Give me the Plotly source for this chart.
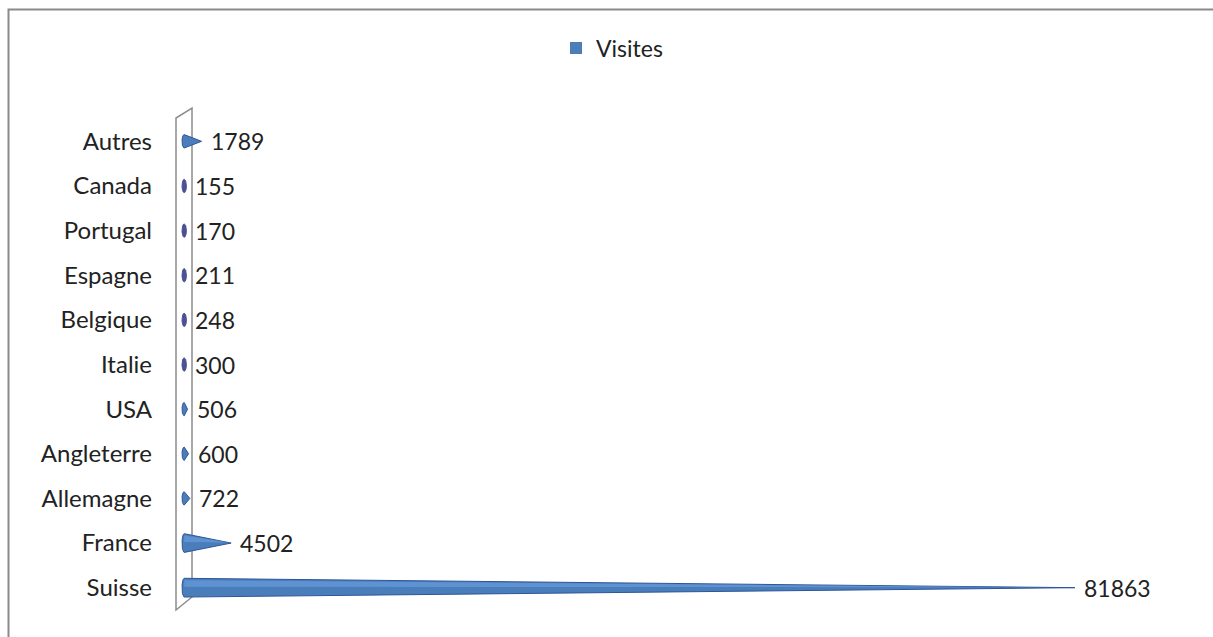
import numpy as np
import plotly.graph_objects as go

# ---- data ----
categories = ["Suisse", "France", "Allemagne", "Angleterre", "USA", "Italie",
              "Belgique", "Espagne", "Portugal", "Canada", "Autres"]
visites = [81863, 4502, 722, 600, 506, 300, 248, 211, 170, 155, 1789]
series_name = "Visites"

# ---- layout geometry (page pixels; body margin removed) ----
W, H = 1213, 637
ML, MR, MT, MB = 178, 18, 119, 27
PX_PER_UNIT = 893 / 81863.0          # horizontal scale of the value axis
plot_w = W - ML - MR
plot_h = H - MT - MB
x_min = -4 / PX_PER_UNIT
x_max = x_min + plot_w / PX_PER_UNIT

BLUE = "#4a7ebb"
BLUE_DARK = "#2f5597"
NAVY = "#4b5192"
TXT = "#222222"
FONT = "Lato"
FS = 23

fig = go.Figure()

ry = 0.21                      # half height of cone base (category units)
ry_small = 0.15                # visible base of very short cones
rx = 2.2 / PX_PER_UNIT         # half width of base ellipse (value units)

for i, (cat, v) in enumerate(zip(categories, visites)):
    cx = rx
    if v > 2 * rx:
        r = ry if v > 20 * rx else ry_small
        t = np.linspace(np.pi / 2, 3 * np.pi / 2, 30)
        xs = list(cx + rx * np.cos(t)) + [v, cx]
        ys = list(i + r * np.sin(t)) + [i, i + r]
        fig.add_trace(go.Scatter(x=xs, y=ys, mode="lines", fill="toself",
                                 fillcolor=BLUE, line=dict(color=BLUE_DARK, width=1),
                                 hoverinfo="skip", showlegend=False))
        if v > 20 * rx:
            # lighter upper half for a rounded look
            fig.add_trace(go.Scatter(x=[cx, v * 0.97, cx], y=[i + r * 0.8, i + 0.01, i + r * 0.1],
                                     mode="lines", fill="toself", fillcolor="rgba(110,160,225,0.6)",
                                     line=dict(width=0), hoverinfo="skip", showlegend=False))
    else:
        t = np.linspace(0, 2 * np.pi, 40)
        xs = list(cx + rx * np.cos(t))
        ys = list(i + ry_small * np.sin(t))
        fig.add_trace(go.Scatter(x=xs, y=ys, mode="lines", fill="toself",
                                 fillcolor=NAVY, line=dict(color=NAVY, width=1),
                                 hoverinfo="skip", showlegend=False))

# value labels
for i, v in enumerate(visites):
    fig.add_annotation(x=max(v, 2 * rx), y=i, text=str(v), showarrow=False,
                       xanchor="left", yanchor="middle", xshift=7,
                       font=dict(family=FONT, size=FS, color=TXT))

# legend entry
fig.add_trace(go.Scatter(x=[None], y=[None], mode="markers", name=series_name,
                         marker=dict(symbol="square", size=12, color=BLUE)))


def px_x(p):
    return (p - ML) / plot_w


def px_y(p):
    return (H - MB - p) / plot_h


# 3D axis wall outline (page pixel coords)
wall = [(176, 118), (176, 610), (192, 597), (192, 108)]
path = "M " + " L ".join(f"{px_x(a)},{px_y(b)}" for a, b in wall) + " Z"
fig.add_shape(type="path", xref="paper", yref="paper", path=path,
              line=dict(color="#8c8c8c", width=1.5), fillcolor="rgba(255,255,255,0)",
              layer="below")

# chart border (right and bottom edges fall outside the picture)
fig.add_shape(type="rect", xref="paper", yref="paper",
              x0=px_x(8.5), x1=px_x(1240), y0=px_y(660), y1=px_y(9.5),
              line=dict(color="#8a8a8a", width=2))

fig.update_layout(
    width=W, height=H,
    margin=dict(l=ML, r=MR, t=MT, b=MB),
    paper_bgcolor="white", plot_bgcolor="white",
    font=dict(family=FONT, size=FS, color=TXT),
    showlegend=True,
    legend=dict(orientation="h", x=px_x(612), xanchor="center",
                y=px_y(48), yanchor="middle", font=dict(family=FONT, size=FS, color=TXT),
                itemwidth=30, bgcolor="rgba(0,0,0,0)"),
    xaxis=dict(range=[x_min, x_max], visible=False, fixedrange=True),
    yaxis=dict(range=[-0.5, len(categories) - 0.5], tickmode="array",
               tickvals=list(range(len(categories))), ticktext=categories,
               showgrid=False, zeroline=False, showline=False, ticks="",
               ticklabelstandoff=25, tickfont=dict(family=FONT, size=24, color=TXT),
               fixedrange=True),
)

fig.write_html("out.html", config={"displayModeBar": False},
               post_script="document.documentElement.style.overflow='hidden';"
                           "document.body.style.margin='0';"
                           "document.body.style.overflow='hidden';")
